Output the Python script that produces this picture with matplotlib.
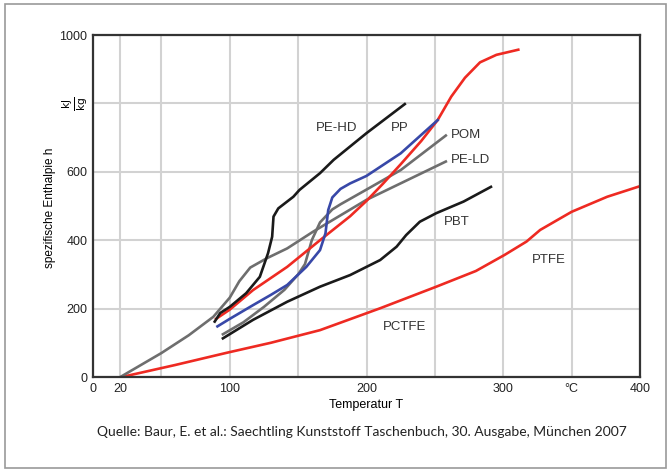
import matplotlib
matplotlib.use("Agg")
import matplotlib.pyplot as plt
from matplotlib.patches import Rectangle

# data (temperature in degC, enthalpy in kJ/kg)
pe_hd_t = [89, 93, 100, 112, 122, 128, 131, 132, 135.5, 146.5, 151, 166, 176, 200, 228]
pe_hd_h = [162, 187, 205, 245, 293, 362, 410, 469, 493, 527, 547, 596, 635, 713, 798]

pp_t = [91, 100, 117, 130, 142, 156, 166, 170, 172, 175, 181, 188, 200, 225, 252]
pp_h = [148, 170, 210, 240, 269, 322, 371, 420, 488, 525, 550, 566, 588, 654, 751]

pom_t = [95, 110, 125, 140, 150, 155, 160, 166, 175, 181, 200, 225, 258]
pom_h = [125, 160, 205, 255, 300, 330, 400, 452, 490, 505, 548, 605, 706]

pe_ld_t = [20, 50, 70, 88, 100, 107, 115, 127, 142, 161, 200, 258]
pe_ld_h = [0, 70, 122, 176, 232, 280, 320, 347, 376, 425, 518, 630]

pbt_t = [95, 117, 142, 166, 188, 210, 222, 229, 239, 251, 271, 291]
pbt_h = [113, 167, 220, 264, 298, 342, 381, 415, 454, 479, 513, 556]

red_up_t = [90, 100, 117, 142, 166, 188, 200, 212, 225, 240, 252, 262, 272, 283, 295, 311]
red_up_h = [170, 197, 254, 322, 400, 470, 515, 565, 622, 690, 751, 820, 875, 920, 942, 957]

red_low_t = [21, 60, 98, 130, 166, 210, 251, 280, 301, 317, 327, 340, 350, 376, 400]
red_low_h = [0, 35, 71, 100, 137, 201, 264, 310, 357, 396, 430, 460, 483, 527, 558]

labels = ["PE-HD", "PP", "POM", "PE-LD", "PBT", "PTFE", "PCTFE"]
label_t = [178, 224.5, 262, 262, 266, 333, 228]
label_h = [727, 727, 708, 634, 454, 342, 147]
label_ha = ["center", "center", "left", "left", "center", "center", "center"]

x_ticks = [0, 20, 100, 200, 300, 350, 400]
x_ticklabels = ["0", "20", "100", "200", "300", "°C", "400"]
y_ticks = [0, 200, 400, 600, 800, 1000]
y_ticklabels = ["0", "200", "400", "600", "", "1000"]

black = "#1a1a1a"
gray = "#6e6e6e"
red = "#ee2a22"
blue = "#3848a8"

fig = plt.figure(figsize=(6.72, 4.72), dpi=100)
ax = fig.add_axes([93 / 672, 1 - 377 / 472, 547 / 672, 342 / 472])

lw = 1.9
ax.plot(red_low_t, red_low_h, color=red, lw=lw)
ax.plot(pe_ld_t, pe_ld_h, color=gray, lw=lw)
ax.plot(pom_t, pom_h, color=gray, lw=lw)
ax.plot(pbt_t, pbt_h, color=black, lw=lw)
ax.plot(red_up_t, red_up_h, color=red, lw=lw)
ax.plot(pp_t, pp_h, color=blue, lw=lw)
ax.plot(pe_hd_t, pe_hd_h, color=black, lw=lw)

for name, t, h, ha in zip(labels, label_t, label_h, label_ha):
    ax.text(t, h, name, ha=ha, va="center", fontsize=9.5, color="#333333",
            family="Liberation Sans")

ax.set_xlim(0, 400)
ax.set_ylim(0, 1000)
ax.set_xticks(range(50, 400, 50), minor=True)
ax.set_xticks(x_ticks)
ax.set_xticklabels(x_ticklabels)
ax.set_yticks(y_ticks)
ax.set_yticklabels(y_ticklabels)
ax.grid(True, which="both", axis="x", color="#d2d2d2", lw=1.5)
ax.grid(True, axis="y", color="#d2d2d2", lw=1.5)
ax.set_axisbelow(True)
ax.tick_params(which="both", length=0, labelsize=9, colors="#222222", pad=4)
for lab in ax.get_xticklabels() + ax.get_yticklabels():
    lab.set_family("Liberation Sans")
for sp in ax.spines.values():
    sp.set_color("#333333")
    sp.set_linewidth(1.6)

ax.set_xlabel("Temperatur T", fontsize=9, family="Liberation Sans", labelpad=3)
fig.text(50 / 672, 1 - 208 / 472, "spezifische Enthalpie h", rotation=90,
         ha="center", va="center", fontsize=8.5, family="Liberation Sans")
ax.text(-13, 800, r"$\frac{\mathrm{kJ}}{\mathrm{kg}}$", rotation=90,
        ha="center", va="center", fontsize=11)

fig.text(362 / 672, 1 - 432 / 472,
         "Quelle: Baur, E. et al.: Saechtling Kunststoff Taschenbuch, 30. Ausgabe, München 2007",
         ha="center", va="center", fontsize=10, family="Lato", color="#222222")

fig.patches.append(Rectangle((5 / 672, 4 / 472), 661 / 672, 464 / 472,
                             transform=fig.transFigure, fill=False,
                             edgecolor="#999999", lw=1.2))

fig.savefig("out.png", dpi=100)
